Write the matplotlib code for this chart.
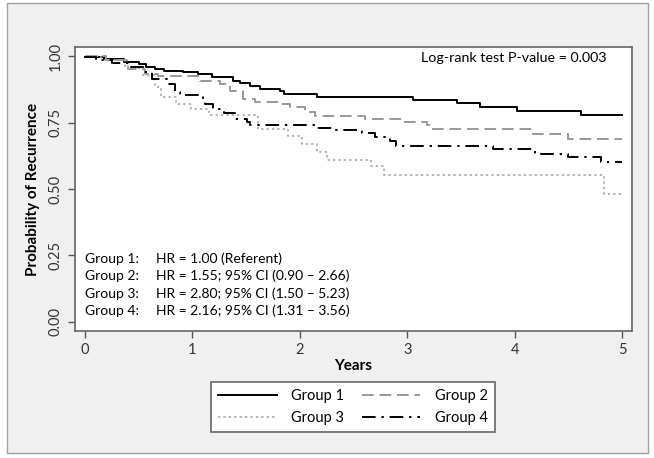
import numpy as np
import matplotlib.pyplot as plt
from matplotlib.patches import Rectangle

# courbes de Kaplan-Meier (temps en annees, probabilite)
t1 = [0, 0.18, 0.36, 0.50, 0.57, 0.65, 0.74, 0.91, 1.05, 1.18, 1.38, 1.44, 1.54, 1.63, 1.82, 1.85, 2.16, 3.05, 3.46, 3.68, 4.02, 4.62, 5.0]
s1 = [0.995, 0.99, 0.976, 0.97, 0.96, 0.951, 0.945, 0.939, 0.932, 0.922, 0.907, 0.897, 0.889, 0.876, 0.867, 0.857, 0.847, 0.835, 0.822, 0.81, 0.795, 0.78, 0.78]

t2 = [0, 0.20, 0.40, 0.56, 0.68, 1.07, 1.26, 1.35, 1.47, 1.58, 1.82, 1.91, 2.05, 2.14, 2.61, 2.95, 3.18, 3.21, 4.17, 4.50, 5.0]
s2 = [1.0, 0.985, 0.95, 0.932, 0.925, 0.907, 0.895, 0.87, 0.84, 0.826, 0.82, 0.81, 0.789, 0.774, 0.762, 0.751, 0.739, 0.726, 0.705, 0.689, 0.689]

t3 = [0, 0.15, 0.37, 0.54, 0.65, 0.71, 0.85, 0.99, 1.15, 1.61, 1.89, 2.02, 2.16, 2.25, 2.66, 2.78, 4.83, 5.0]
s3 = [1.0, 0.985, 0.955, 0.93, 0.885, 0.845, 0.82, 0.80, 0.78, 0.726, 0.70, 0.67, 0.64, 0.61, 0.585, 0.554, 0.483, 0.483]

t4 = [0, 0.10, 0.25, 0.42, 0.55, 0.62, 0.76, 0.84, 0.88, 1.10, 1.12, 1.19, 1.29, 1.40, 1.51, 1.54, 2.14, 2.30, 2.58, 2.70, 2.84, 2.90, 3.80, 4.19, 4.50, 4.80, 5.0]
s4 = [0.995, 0.985, 0.975, 0.957, 0.94, 0.913, 0.895, 0.864, 0.855, 0.832, 0.82, 0.80, 0.785, 0.765, 0.751, 0.742, 0.73, 0.722, 0.712, 0.697, 0.682, 0.66, 0.651, 0.632, 0.62, 0.601, 0.601]

groupes = ['Group 1', 'Group 2', 'Group 3', 'Group 4']
hr_textes = ['HR = 1.00 (Referent)',
             'HR = 1.55; 95% CI (0.90 \u2013 2.66)',
             'HR = 2.80; 95% CI (1.50 \u2013 5.23)',
             'HR = 2.16; 95% CI (1.31 \u2013 3.56)']
xticks = [0, 1, 2, 3, 4, 5]
yticks = [0.00, 0.25, 0.50, 0.75, 1.00]

plt.rcParams['font.family'] = ['Lato', 'DejaVu Sans']
fs = 10

fig = plt.figure(figsize=(6.54, 4.58), dpi=100, facecolor='white')
# cadre gris exterieur
fig.patches.append(Rectangle((7/654, 5/458), 641/654, 450/458, transform=fig.transFigure,
                             facecolor='#f0f0f0', edgecolor='#a0a0a0', lw=1.0, zorder=-10))

ax = fig.add_axes([75/654, 127/458, 557/654, 284/458])
ax.set_facecolor('white')

l1, = ax.step(t1, s1, where='post', color='black', lw=1.4, label=groupes[0])
l2, = ax.step(t2, s2, where='post', color='#999999', lw=1.4, dashes=(6, 3), label=groupes[1])
l3, = ax.step(t3, s3, where='post', color='#aaaaaa', lw=1.3, dashes=(1.2, 1.8), label=groupes[2])
l4, = ax.step(t4, s4, where='post', color='black', lw=1.4, dashes=(7, 3, 1.2, 3), label=groupes[3])

ax.set_xlim(-0.093, 5.093)
ax.set_ylim(-0.034, 1.034)
ax.set_xticks(xticks)
ax.set_yticks(yticks)
ax.set_xticklabels([str(v) for v in xticks], fontsize=10.5, color='#333333')
ax.set_yticklabels(['%.2f' % v for v in yticks], fontsize=10.5, color='#333333',
                   rotation=90, va='center')
ax.tick_params(direction='out', length=5, width=1, color='#555555', pad=4)
for sp in ax.spines.values():
    sp.set_color('#666666')
    sp.set_linewidth(1.2)

ax.set_xlabel('Years', fontsize=11, fontweight='bold', labelpad=1)
ax.set_ylabel('Probability of Recurrence', fontsize=11, fontweight='bold', labelpad=6)

ax.text(0.955, 0.96, 'Log-rank test P-value = 0.003', transform=ax.transAxes,
        ha='right', va='center', fontsize=10.3)

# texte des HR
for i, (g, h) in enumerate(zip(groupes, hr_textes)):
    y = 0.255 - i * 0.0615
    ax.text(0.018, y, g + ':', transform=ax.transAxes, ha='left', va='center', fontsize=fs)
    ax.text(0.145, y, h, transform=ax.transAxes, ha='left', va='center', fontsize=fs)

# legende: ordre par lignes (1,2 / 3,4)
leg = fig.legend([l1, l3, l2, l4], [groupes[0], groupes[2], groupes[1], groupes[3]],
                 loc='center', bbox_to_anchor=(353/654, 1 - 407/458), ncol=2,
                 fontsize=10.5, handlelength=4.0, columnspacing=1.2, handletextpad=1.0,
                 labelspacing=0.55, fancybox=False, edgecolor='#666666', framealpha=1,
                 borderpad=0.5)
leg.get_frame().set_linewidth(1.2)

plt.savefig('out.png', dpi=100, facecolor=fig.get_facecolor())
